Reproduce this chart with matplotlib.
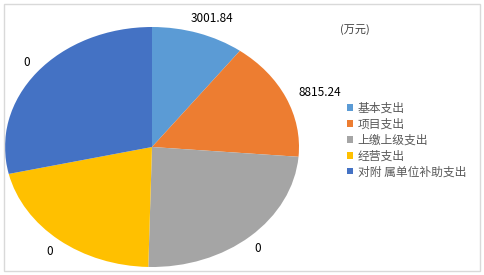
import matplotlib.pyplot as plt
from matplotlib.patches import Rectangle

plt.rcParams['font.family'] = ['Noto Sans CJK SC', 'DejaVu Sans']

categories = ['基本支出', '项目支出', '上缴上级支出', '经营支出', '对附 属单位补助支出']
# slice sizes as drawn in the picture (share of the circle, %)
shares = [10.2, 16.1, 24.1, 21.0, 28.6]
# data labels shown on the chart
label_texts = ['3001.84', '8815.24', '0', '0', '0']
colors = ['#5B9BD5', '#ED7D31', '#A5A5A5', '#FFC000', '#4472C4']

fig = plt.figure(figsize=(4.84, 2.75), dpi=100)
fig.patches.append(Rectangle((4 / 484, 4 / 275), 476 / 484, 267 / 275, transform=fig.transFigure,
                             fill=False, edgecolor='#D9D9D9', linewidth=1))

ax = fig.add_axes([5 / 484, 8 / 275, 294 / 484, 240 / 275])
wedges, _ = ax.pie(shares, colors=colors, startangle=90, counterclock=False,
                   wedgeprops=dict(linewidth=0))
ax.set_aspect('auto')
ax.set_xlim(-1, 1)
ax.set_ylim(-1, 1)
ax.axis('off')

# label positions (axes data units)
label_pos = [(0.405, 1.075), (1.143, 0.458), (0.721, -0.842), (-0.694, -0.867), (-0.85, 0.708)]
for txt, (x, y) in zip(label_texts, label_pos):
    ax.text(x, y, txt, ha='center', va='center', fontsize=8.5, color='#000000', clip_on=False)

fig.text(355 / 484, 1 - 30 / 275, '(万元)', ha='center', va='center', fontsize=8, color='#404040')

fig.legend(wedges, categories, loc='upper left', bbox_to_anchor=(341 / 484, 1 - 96 / 275),
           frameon=False, fontsize=8.5, handlelength=0.5, handleheight=0.5, handletextpad=0.4,
           labelspacing=0.24, borderpad=0, labelcolor='#595959')

fig.savefig('out.png', dpi=100)
